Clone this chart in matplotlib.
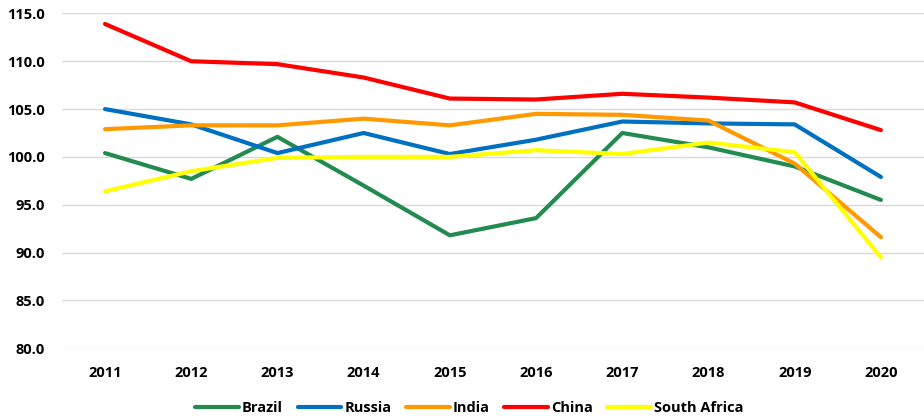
import matplotlib.pyplot as plt

years = ['2011', '2012', '2013', '2014', '2015', '2016', '2017', '2018', '2019', '2020']
brazil = [100.4, 97.7, 102.1, 97.0, 91.8, 93.6, 102.5, 101.0, 99.0, 95.5]
russia = [105.0, 103.4, 100.4, 102.5, 100.3, 101.8, 103.7, 103.5, 103.4, 97.9]
india = [102.9, 103.3, 103.3, 104.0, 103.3, 104.5, 104.4, 103.8, 99.3, 91.6]
china = [113.9, 110.0, 109.7, 108.3, 106.1, 106.0, 106.6, 106.2, 105.7, 102.8]
south_africa = [96.4, 98.5, 99.9, 100.0, 100.0, 100.7, 100.3, 101.5, 100.5, 89.5]

plt.rcParams['font.family'] = ['Open Sans', 'DejaVu Sans']

fig = plt.figure(figsize=(9.24, 4.2), dpi=100)
ax = fig.add_axes([0.067, 0.171, 0.933, 0.797])

x = range(len(years))
series = [
    (brazil, 'Brazil', '#238b4f'),
    (russia, 'Russia', '#0070c0'),
    (india, 'India', '#ff9900'),
    (china, 'China', '#ff0000'),
    (south_africa, 'South Africa', '#ffff00'),
]
for vals, name, col in series:
    ax.plot(x, vals, color=col, lw=3, label=name, solid_capstyle='round')

ax.set_xlim(-0.5, len(years) - 0.5)
ax.set_ylim(80, 115)
ax.set_yticks(range(80, 116, 5))
ax.set_yticklabels([f'{v:.1f}' for v in range(80, 116, 5)])
ax.set_xticks(list(x))
ax.set_xticklabels(years)
ax.grid(axis='y', color='#d9d9d9', lw=1)
ax.set_axisbelow(True)
for s in ax.spines.values():
    s.set_visible(False)
ax.tick_params(length=0, labelsize=10.5)
ax.tick_params(axis='y', pad=12)
ax.tick_params(axis='x', pad=13)
for lab in ax.get_xticklabels() + ax.get_yticklabels():
    lab.set_fontweight('bold')

leg = fig.legend(loc='center', bbox_to_anchor=(0.508, 0.028), ncol=5, frameon=False,
                 prop={'weight': 'bold', 'size': 10.5}, handlelength=3.0,
                 columnspacing=1.0, handletextpad=0.2)

fig.savefig('out.png', dpi=100)
